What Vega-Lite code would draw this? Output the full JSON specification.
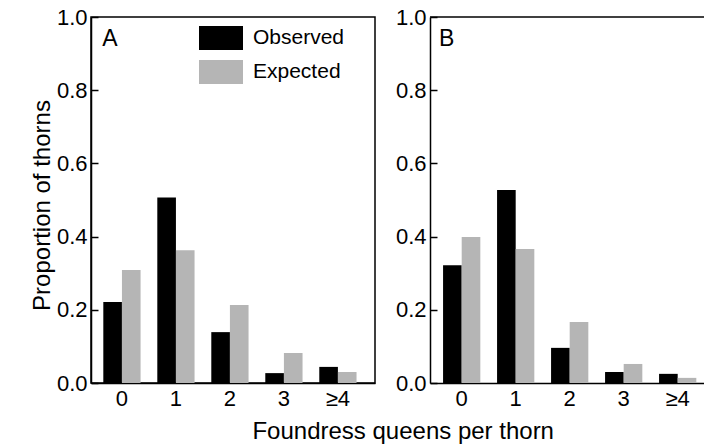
{
  "$schema": "https://vega.github.io/schema/vega-lite/v6.json",
  "background": "white",
  "padding": {"left": 29, "top": 5, "right": 0, "bottom": 0},
  "config": {
    "font": "Liberation Sans",
    "view": {"stroke": null},
    "axis": {
      "labelFont": "Liberation Sans", "titleFont": "Liberation Sans",
      "labelColor": "black", "titleColor": "black",
      "domainColor": "black", "tickColor": "black",
      "labelFontSize": 22, "titleFontSize": 24, "titleFontWeight": "normal",
      "grid": false, "domainWidth": 1.5, "tickWidth": 1.5
    },
    "legend": {
      "title": null, "orient": "none", "legendX": 108, "legendY": -1,
      "symbolType": "M-1,-0.545H1V0.545H-1Z", "symbolSize": 1936,
      "labelFont": "Liberation Sans", "labelFontSize": 21, "labelColor": "black",
      "labelOffset": 10, "rowPadding": -5, "symbolStrokeWidth": 0,
      "symbolOpacity": 1, "padding": 0
    }
  },
  "datasets": {
    "bars": [
      {"panel": "A", "cat": "0", "series": "Observed", "value": 0.221},
      {"panel": "A", "cat": "0", "series": "Expected", "value": 0.309},
      {"panel": "A", "cat": "1", "series": "Observed", "value": 0.507},
      {"panel": "A", "cat": "1", "series": "Expected", "value": 0.363},
      {"panel": "A", "cat": "2", "series": "Observed", "value": 0.139},
      {"panel": "A", "cat": "2", "series": "Expected", "value": 0.213},
      {"panel": "A", "cat": "3", "series": "Observed", "value": 0.027},
      {"panel": "A", "cat": "3", "series": "Expected", "value": 0.082},
      {"panel": "A", "cat": "≥4", "series": "Observed", "value": 0.044},
      {"panel": "A", "cat": "≥4", "series": "Expected", "value": 0.030},
      {"panel": "B", "cat": "0", "series": "Observed", "value": 0.322},
      {"panel": "B", "cat": "0", "series": "Expected", "value": 0.399},
      {"panel": "B", "cat": "1", "series": "Observed", "value": 0.527},
      {"panel": "B", "cat": "1", "series": "Expected", "value": 0.366},
      {"panel": "B", "cat": "2", "series": "Observed", "value": 0.096},
      {"panel": "B", "cat": "2", "series": "Expected", "value": 0.167},
      {"panel": "B", "cat": "3", "series": "Observed", "value": 0.030},
      {"panel": "B", "cat": "3", "series": "Expected", "value": 0.052},
      {"panel": "B", "cat": "≥4", "series": "Observed", "value": 0.025},
      {"panel": "B", "cat": "≥4", "series": "Expected", "value": 0.014}
    ],
    "panels": [
      {"panel": "A", "cat": "0"},
      {"panel": "B", "cat": "0"}
    ]
  },
  "title": {
    "text": "Foundress queens per thorn", "orient": "bottom", "anchor": "middle",
    "font": "Liberation Sans", "fontSize": 24, "fontWeight": "normal", "color": "black",
    "offset": 10, "dx": 36
  },
  "spacing": 19,
  "resolve": {"scale": {"color": "independent"}, "legend": {"color": "independent"}},
  "hconcat": [
    {
      "width": 284, "height": 366,
      "view": {"stroke": "black", "strokeWidth": 1.5},
      "layer": [
        {
          "data": {"name": "bars"},
          "transform": [{"filter": "datum.panel === 'A'"}],
          "mark": {"type": "bar"},
          "encoding": {
            "x": {"field": "cat", "type": "nominal", "sort": ["0", "1", "2", "3", "≥4"],
                  "scale": {"paddingInner": 0.31, "paddingOuter": 0.285, "align": 0.4},
                  "axis": {"title": null, "labelAngle": 0, "ticks": false, "labelPadding": 5}},
            "xOffset": {"field": "series", "type": "nominal", "sort": ["Observed", "Expected"],
                        "scale": {"paddingInner": 0, "paddingOuter": 0}},
            "y": {"field": "value", "type": "quantitative",
                  "scale": {"domain": [0, 1], "nice": false},
                  "axis": {"values": [0, 0.2, 0.4, 0.6, 0.8, 1], "format": ".1f", "tickSize": -7,
                           "labelPadding": 11, "title": "Proportion of thorns", "titlePadding": 2, "titleY": 188}},
            "color": {"field": "series", "type": "nominal",
                      "scale": {"domain": ["Observed", "Expected"], "range": ["black", "#b5b5b5"]},
                      "legend": {}}
          }
        },
        {
          "data": {"name": "panels"},
          "transform": [{"filter": "datum.panel === 'A'"}],
          "mark": {"type": "text", "align": "left", "baseline": "top", "fontSize": 23, "dx": -1, "dy": 11, "color": "black"},
          "encoding": {
            "x": {"field": "cat", "type": "nominal", "sort": ["0", "1", "2", "3", "≥4"], "bandPosition": 0},
            "y": {"datum": 1, "type": "quantitative"},
            "text": {"field": "panel"}
          }
        }
      ]
    },
    {
      "width": 274, "height": 366,
      "layer": [
        {
          "data": {"name": "bars"},
          "transform": [{"filter": "datum.panel === 'B'"}],
          "mark": {"type": "bar"},
          "encoding": {
            "x": {"field": "cat", "type": "nominal", "sort": ["0", "1", "2", "3", "≥4"],
                  "scale": {"paddingInner": 0.31, "paddingOuter": 0.192, "align": 0.63},
                  "axis": {"title": null, "labelAngle": 0, "ticks": false, "labelPadding": 5}},
            "xOffset": {"field": "series", "type": "nominal", "sort": ["Observed", "Expected"],
                        "scale": {"paddingInner": 0, "paddingOuter": 0}},
            "y": {"field": "value", "type": "quantitative",
                  "scale": {"domain": [0, 1], "nice": false},
                  "axis": {"values": [0, 0.2, 0.4, 0.6, 0.8, 1], "format": ".1f", "tickSize": -7,
                           "labelPadding": 11, "title": null}},
            "color": {"field": "series", "type": "nominal",
                      "scale": {"domain": ["Observed", "Expected"], "range": ["black", "#b5b5b5"]},
                      "legend": null}
          }
        },
        {
          "data": {"name": "panels"},
          "transform": [{"filter": "datum.panel === 'B'"}],
          "mark": {"type": "text", "align": "left", "baseline": "top", "fontSize": 23, "dx": -4, "dy": 11, "color": "black"},
          "encoding": {
            "x": {"field": "cat", "type": "nominal", "sort": ["0", "1", "2", "3", "≥4"], "bandPosition": 0},
            "y": {"datum": 1, "type": "quantitative"},
            "text": {"field": "panel"}
          }
        },
        {
          "data": {"name": "panels"},
          "transform": [{"filter": "datum.panel === 'B'"}],
          "mark": {"type": "rule", "strokeWidth": 1.5, "color": "black"},
          "encoding": {
            "y": {"datum": 1, "type": "quantitative"}
          }
        }
      ]
    }
  ]
}
